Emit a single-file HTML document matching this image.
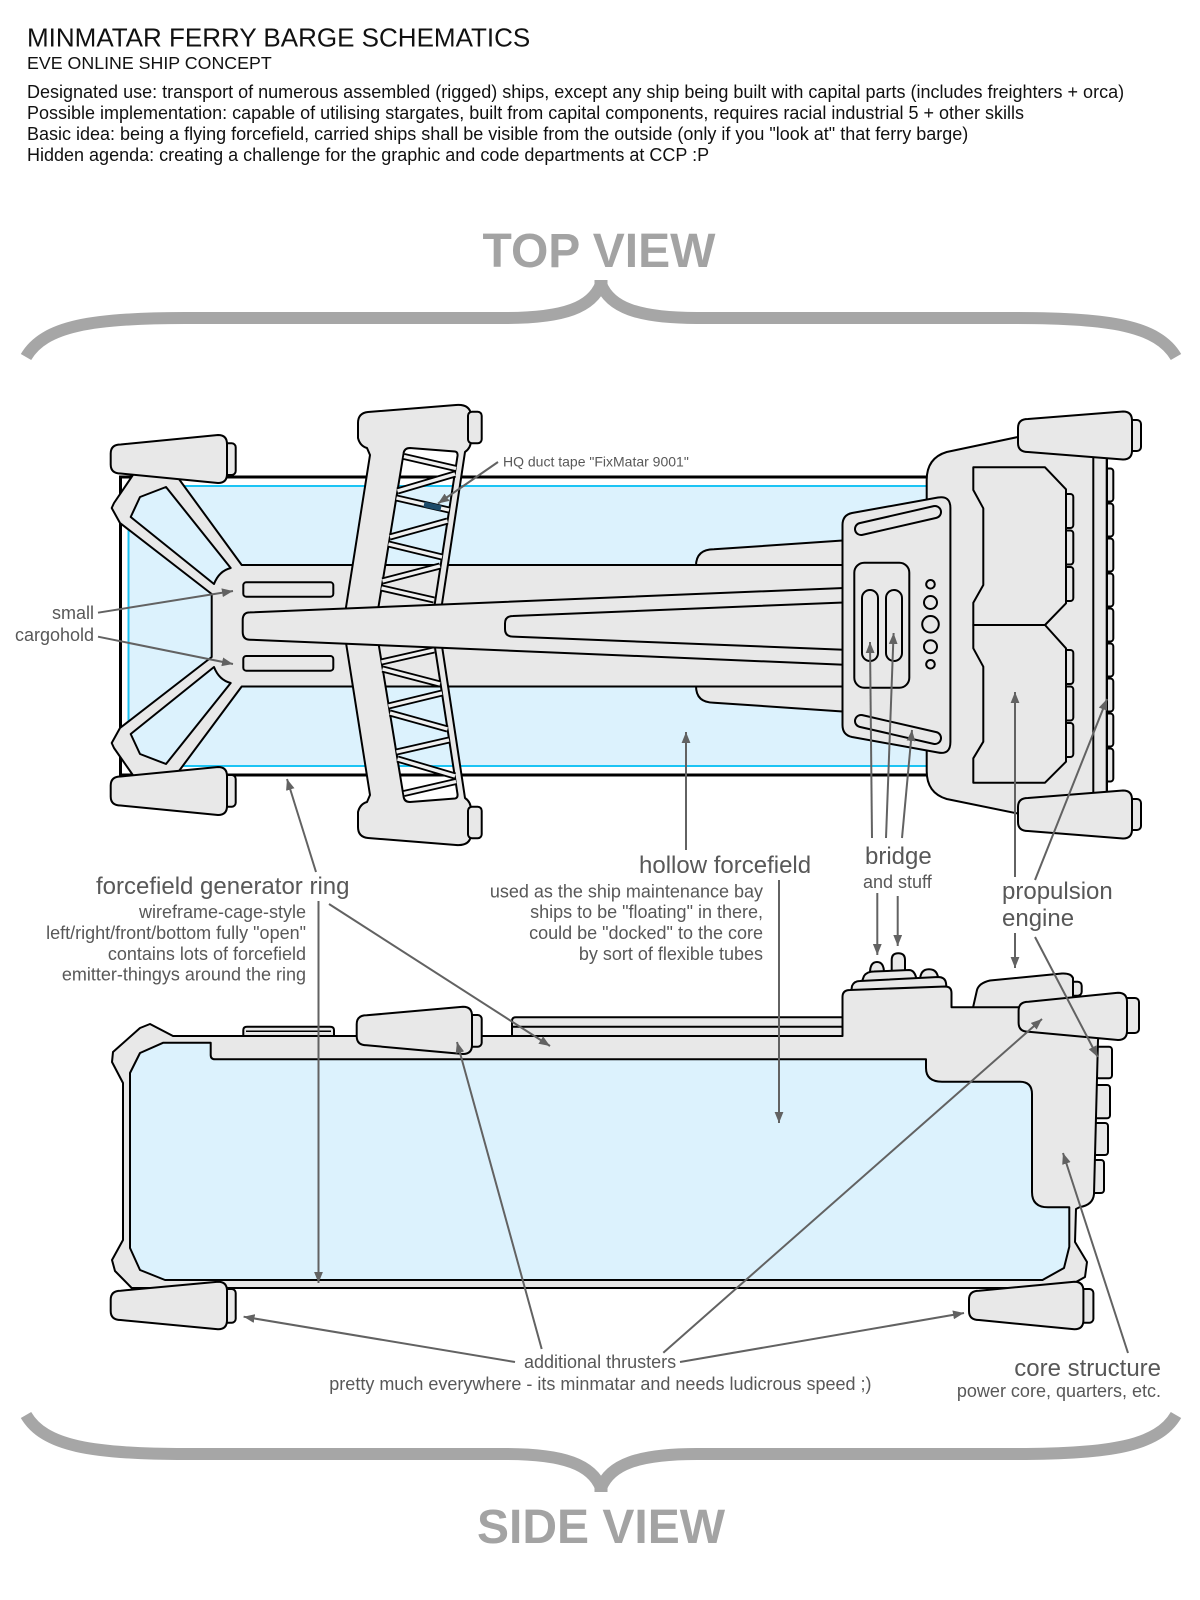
<!DOCTYPE html>
<html>
<head>
<meta charset="utf-8">
<style>
html,body{margin:0;padding:0;background:#fff;}
svg{display:block;}
text{font-family:"Liberation Sans",Arial,sans-serif;}
</style>
</head>
<body>
<svg width="1200" height="1600" viewBox="0 0 1200 1600" xmlns="http://www.w3.org/2000/svg">
<defs>
<marker id="ah" viewBox="0 0 10 8" refX="10" refY="4" markerWidth="11" markerHeight="9" markerUnits="userSpaceOnUse" orient="auto">
<path d="M0,0 L10,4 L0,8 Z" fill="#626262"/>
</marker>
</defs>
<rect width="1200" height="1600" fill="#fff"/>

<!-- HEADER -->
<text x="27" y="46.7" font-size="26" fill="#111">MINMATAR FERRY BARGE SCHEMATICS</text>
<text x="27" y="69" font-size="17.8" fill="#111">EVE ONLINE SHIP CONCEPT</text>
<text x="27" y="98" font-size="18" fill="#111">Designated use: transport of numerous assembled (rigged) ships, except any ship being built with capital parts (includes freighters + orca)</text>
<text x="27" y="119" font-size="18" fill="#111">Possible implementation: capable of utilising stargates, built from capital components, requires racial industrial 5 + other skills</text>
<text x="27" y="140" font-size="18" fill="#111">Basic idea: being a flying forcefield, carried ships shall be visible from the outside (only if you "look at" that ferry barge)</text>
<text x="27" y="161" font-size="18" fill="#111">Hidden agenda: creating a challenge for the graphic and code departments at CCP :P</text>

<!-- TOP VIEW title + brace -->
<text x="599" y="267" font-size="48" font-weight="bold" fill="#a3a3a3" text-anchor="middle">TOP VIEW</text>
<g stroke="#a6a6a6" stroke-width="12" fill="none">
<path d="M26,357 C44,326 92,318 185,318 L505,318 C565,318 592,307 601,284"/>
<path d="M1176,357 C1158,326 1110,318 1017,318 L697,318 C637,318 610,307 601,284"/>
</g>
<rect x="594.5" y="280" width="13" height="13" fill="#a6a6a6"/>

<!-- ============ TOP VIEW SHIP ============ -->
<rect x="120.5" y="477" width="820" height="298" fill="#fff" stroke="#000" stroke-width="3"/>
<rect x="128.5" y="486" width="812" height="280" fill="#dcf2fd" stroke="#1cc4f4" stroke-width="2"/>

<g stroke="#000" stroke-width="2" fill="#e8e8e8" stroke-linejoin="round">
<!-- bar fins -->
<rect x="1100" y="468.5" width="13.3" height="33" rx="3"/>
<rect x="1100" y="503.5" width="13.3" height="33" rx="3"/>
<rect x="1100" y="538.5" width="13.3" height="33" rx="3"/>
<rect x="1100" y="573.5" width="13.3" height="33" rx="3"/>
<rect x="1100" y="608.5" width="13.3" height="33" rx="3"/>
<rect x="1100" y="643.5" width="13.3" height="33" rx="3"/>
<rect x="1100" y="678.5" width="13.3" height="33" rx="3"/>
<rect x="1100" y="713.5" width="13.3" height="33" rx="3"/>
<rect x="1100" y="748.5" width="13.3" height="33" rx="3"/>
<!-- engine block -->
<path d="M926.7,480 Q926.7,458 946.7,452 L1025,435.5 L1107,435.5 L1107,815 L1025,815 L946.7,799 Q926.7,793 926.7,771 Z"/>
<rect x="1093.3" y="436" width="13.4" height="379"/>
<!-- block fins -->
<rect x="1060" y="494" width="13.3" height="34" rx="3"/>
<rect x="1060" y="530.5" width="13.3" height="34" rx="3"/>
<rect x="1060" y="567" width="13.3" height="34" rx="3"/>
<rect x="1060" y="650" width="13.3" height="34" rx="3"/>
<rect x="1060" y="686.5" width="13.3" height="34" rx="3"/>
<rect x="1060" y="723" width="13.3" height="34" rx="3"/>
<!-- inner blocks -->
<path d="M973.3,467.3 L1045,467.3 L1066,489.3 L1066,603.3 L1045,625 L973.3,625 L973.3,602.7 L983.3,585 L983.3,508.3 L973.3,490 Z"/>
<path d="M973.3,625 L1045,625 L1066,648.3 L1066,761.7 L1045,782.7 L973.3,782.7 L973.3,758.3 L983.3,741.7 L983.3,666.7 L973.3,648.3 Z"/>

<!-- wider section -->
<path d="M696,566 Q696,549.3 714,549.3 L850,540 L850,712 L714,702.7 Q696,702.7 696,686 Z"/>

<!-- spine + hub + arms -->
<path fill-rule="evenodd" d="M241.7,565 L850,565 L850,686.5 L241.7,686.5 L176,775 L137,781 L114,748 L111.7,743 L120,728 L211.7,657 L211.7,594 L120,523 L111.7,508 L114,503 L137,469 L176,475 Z
M140,497 L166,487 L230.7,568 Q219,571 214,584 L130.7,517 Z
M140,754 L166,764 L230.7,683 Q219,680 214,667 L130.7,734 Z"/>

<!-- forcefield generator ring -->
<path fill-rule="evenodd" d="M358,423 Q358,413 368,412 L456,405 Q470,404 471,415 L471,440 Q471,448 465,452 L438.8,625 L465,798 Q471,802 471,810 L471,835 Q470,846 456,845 L368,838 Q358,837 358,827 L358,812 Q360,804 367,802 L370,795 L343.2,625 L370,455 L367,448 Q360,446 358,438 Z
M410,448 L455,451.5 Q458,452 457.5,456 L431.5,625 L457.5,794 Q458,798 455,798.5 L410,802 Q404,802 403.5,796 L375.5,625 L403.5,454 Q404,448 410,448 Z"/>
<rect x="468" y="411.7" width="13.7" height="31.6" rx="4"/>
<rect x="468" y="806.7" width="13.7" height="31.6" rx="4"/>
</g>

<!-- ring struts -->
<g stroke="#000" stroke-width="7" fill="none">
<path d="M404,456.5 L456,468.5 M455,474 L397.5,491 M396.5,498 L449,510 M447.5,521 L390,537 M388.5,544 L442,557 M440,566 L382.5,581 M381.5,588 L434,600"/>
<path d="M404,793.5 L456,781.5 M455,776 L397.5,759 M396.5,752 L449,740 M447.5,729 L390,713 M388.5,706 L442,693 M440,684 L382.5,669 M381.5,662 L434,650"/>
</g>
<g stroke="#f0f0f0" stroke-width="3.4" fill="none">
<path d="M404,456.5 L456,468.5 M455,474 L397.5,491 M396.5,498 L449,510 M447.5,521 L390,537 M388.5,544 L442,557 M440,566 L382.5,581 M381.5,588 L434,600"/>
<path d="M404,793.5 L456,781.5 M455,776 L397.5,759 M396.5,752 L449,740 M447.5,729 L390,713 M388.5,706 L442,693 M440,684 L382.5,669 M381.5,662 L434,650"/>
</g>
<line x1="424" y1="504.3" x2="441" y2="508.2" stroke="#1d4b6a" stroke-width="5.5"/>

<g stroke="#000" stroke-width="2" fill="#e8e8e8" stroke-linejoin="round">
<!-- beam -->
<path d="M250,612.4 L850,587.7 L850,665 L250,639.7 Q242.7,639.7 242.7,632 L242.7,620 Q242.7,612.4 250,612.4 Z"/>
<path d="M513,616 L850,602.2 L850,650 L513,636.6 Q505,636.6 505,629 L505,623.5 Q505,616 513,616 Z"/>
<!-- cargo -->
<rect x="243.3" y="582.3" width="90" height="14.4" rx="3"/>
<rect x="243.3" y="656" width="90" height="14.7" rx="3"/>
<!-- bridge plate -->
<path d="M852,513 L938,497.5 Q950.4,495.5 950.4,508 L950.4,742 Q950.4,755 938,752.5 L852,737 Q842.5,735 842.5,725 L842.5,525 Q842.5,515 852,513 Z"/>
<rect x="854.3" y="562.7" width="55" height="125" rx="10"/>
<rect x="862" y="590" width="16" height="71" rx="8"/>
<rect x="886" y="590" width="16" height="71" rx="8"/>
<circle cx="930.5" cy="584.3" r="4.3"/>
<circle cx="930.5" cy="602.5" r="6.5"/>
<circle cx="930.5" cy="624.3" r="8.3"/>
<circle cx="930.5" cy="646.7" r="6.5"/>
<circle cx="930.5" cy="664.3" r="4.3"/>
</g>
<g fill="none" stroke-linecap="round">
<line x1="861" y1="529" x2="935" y2="512" stroke="#000" stroke-width="14"/>
<line x1="861" y1="529" x2="935" y2="512" stroke="#e8e8e8" stroke-width="10"/>
<line x1="861" y1="721" x2="935" y2="738" stroke="#000" stroke-width="14"/>
<line x1="861" y1="721" x2="935" y2="738" stroke="#e8e8e8" stroke-width="10"/>
</g>

<!-- top view thrusters -->
<g stroke="#000" stroke-width="2" fill="#e8e8e8" stroke-linejoin="round">
<rect x="220" y="443.3" width="15.7" height="31.7" rx="4"/>
<path d="M120.7,444.5 L218,435 Q227,435 227,444 L227,474 Q227,483 218,483 L120.7,473.5 Q110.7,473.5 110.7,464.5 L110.7,453.5 Q110.7,444.5 120.7,444.5 Z"/>
<rect x="220" y="775" width="15.7" height="31.7" rx="4"/>
<path d="M120.7,776.5 L218,767 Q227,767 227,776 L227,806 Q227,815 218,815 L120.7,805.5 Q110.7,805.5 110.7,796.5 L110.7,785.5 Q110.7,776.5 120.7,776.5 Z"/>
<rect x="1126" y="420" width="15" height="31" rx="4"/>
<path d="M1028,419 L1123,411.5 Q1132,411.5 1132,420.5 L1132,450.5 Q1132,459.5 1123,459.5 L1028,452 Q1018,452 1018,443 L1018,428 Q1018,419 1028,419 Z"/>
<rect x="1126" y="799" width="15" height="31" rx="4"/>
<path d="M1028,798 L1123,790.5 Q1132,790.5 1132,799.5 L1132,829.5 Q1132,838.5 1123,838.5 L1028,831 Q1018,831 1018,822 L1018,807 Q1018,798 1028,798 Z"/>
</g>

<!-- ============ SIDE VIEW SHIP ============ -->
<g stroke="#000" stroke-width="2" fill="#e8e8e8" stroke-linejoin="round">
<!-- rails -->
<path d="M512,1036 L512,1021 Q512,1017.3 516,1017.3 L850,1017.3 L850,1036 Z"/>
<line x1="512" y1="1026.7" x2="850" y2="1026.7"/>
<path d="M243.3,1036 L243.3,1030 Q243.3,1026.7 247,1026.7 L330,1026.7 Q334,1026.7 334,1030 L334,1036 Z"/>
<line x1="246" y1="1031.3" x2="331" y2="1031.3" stroke-width="1.5"/>
<!-- bridge domes -->
<path d="M870,973 Q870,962 877,962 Q884,962 884,973 Z"/>
<path d="M891.7,972 L891.7,960 Q891.7,953.3 898.3,953.3 Q905,953.3 905,960 L905,972 Z"/>
<path d="M920,981 Q920,969.3 929,969.3 Q938.3,969.3 938.3,981 Z"/>
<path d="M861,984 L864,976 Q867,971.5 874,971.5 L909,970 Q914,970 916,977 L917,984 Z"/>
<path d="M851,993 L852,986 Q854,981 860,981 L938,977 Q945,977 946,983 L947,993 Z"/>
<!-- engine housing -->
<rect x="1068" y="981.7" width="13.7" height="14" rx="4"/>
<path d="M972,1012 L977,990 Q979,983 990,980.5 L1062,973.5 Q1071,973 1073,978 L1073,1012 Z"/>
<!-- core fins -->
<rect x="1096" y="1046.7" width="16" height="31.6" rx="3"/>
<rect x="1094" y="1085" width="16" height="33.3" rx="3"/>
<rect x="1092" y="1123" width="16" height="32" rx="3"/>
<rect x="1089" y="1160" width="15" height="33" rx="3"/>
<!-- hull -->
<path d="M150,1024 L173,1036 L842.5,1036 L842.5,997 Q842.5,990 850,990 L945,986.5 Q951.5,986.5 951.5,993 L951.5,1007.3 L1060,1007.3 L1100,1030 L1098,1040 L1094,1194 Q1093,1205 1080,1207 L1076,1209 L1075,1242 L1087,1262 L1085,1277 L1076,1282 L1070,1288 L131.7,1288 L115,1271 L112,1260 L123,1240 L123,1083 L112,1062 L113,1052 L140,1028 Z"/>
<!-- blue interior -->
<path fill="#dcf2fd" d="M130,1073 L140,1053 L163.3,1042.7 L210.7,1042.7 L210.7,1055 Q210.7,1059.3 215,1059.3 L926,1059.3 L926,1068 Q926,1081.7 942,1081.7 L1020,1081.7 Q1032,1081.7 1032,1094 L1032,1192 Q1032,1207.3 1048,1207.3 L1069.3,1207.3 L1069.3,1246.7 L1064,1268 L1042.5,1280 L165,1280 L140,1270 L130,1248 Z"/>
<!-- side thrusters -->
<rect x="466" y="1015" width="15.7" height="31.7" rx="4"/>
<path d="M366.7,1015.3 L463,1006.7 Q472,1006.7 472,1015.7 L472,1045 Q472,1054 463,1054 L366.7,1045.3 Q356.7,1045.3 356.7,1036.3 L356.7,1024.3 Q356.7,1015.3 366.7,1015.3 Z"/>
<rect x="1122" y="998" width="17" height="35" rx="4"/>
<path d="M1028.6,1001.7 L1118,992.7 Q1127,992.7 1127,1001.7 L1127,1031 Q1127,1040 1118,1040 L1028.6,1031.7 Q1018.6,1031.7 1018.6,1022.7 L1018.6,1010.7 Q1018.6,1001.7 1028.6,1001.7 Z"/>
<rect x="221" y="1289" width="14.7" height="33.7" rx="4"/>
<path d="M120.7,1290.7 L218,1281.7 Q227,1281.7 227,1290.7 L227,1320.3 Q227,1329.3 218,1329.3 L120.7,1320 Q110.7,1320 110.7,1311 L110.7,1299.7 Q110.7,1290.7 120.7,1290.7 Z"/>
<rect x="1078" y="1289" width="15.4" height="33.7" rx="4"/>
<path d="M979,1290.7 L1074.4,1281.7 Q1083.4,1281.7 1083.4,1290.7 L1083.4,1320.3 Q1083.4,1329.3 1074.4,1329.3 L979,1320 Q969,1320 969,1311 L969,1299.7 Q969,1290.7 979,1290.7 Z"/>
</g>

<!-- ============ ARROWS ============ -->
<g stroke="#626262" stroke-width="2" fill="none" marker-end="url(#ah)">
<line x1="98" y1="612.7" x2="233" y2="591"/>
<line x1="98" y1="636.7" x2="233" y2="664"/>
<line x1="498" y1="462" x2="438" y2="503.5"/>
<line x1="316" y1="872" x2="287" y2="779"/>
<line x1="329" y1="904" x2="550" y2="1046"/>
<line x1="318.5" y1="901" x2="318.5" y2="1283"/>
<line x1="686" y1="850" x2="686" y2="732"/>
<line x1="779" y1="880" x2="779" y2="1123"/>
<line x1="872" y1="838" x2="870" y2="642"/>
<line x1="886" y1="838" x2="893.6" y2="633"/>
<line x1="902" y1="838" x2="912" y2="730"/>
<line x1="877.3" y1="893" x2="877.3" y2="955"/>
<line x1="897.7" y1="896" x2="897.7" y2="946"/>
<line x1="1015" y1="877" x2="1015" y2="692"/>
<line x1="1035" y1="880" x2="1107" y2="699"/>
<line x1="1015" y1="933" x2="1015" y2="968"/>
<line x1="1035" y1="937" x2="1097.7" y2="1057"/>
<line x1="515" y1="1362" x2="243.6" y2="1316.7"/>
<line x1="680" y1="1362" x2="964" y2="1313"/>
<line x1="541.7" y1="1349" x2="457" y2="1042"/>
<line x1="663.3" y1="1352.7" x2="1042" y2="1019"/>
<line x1="1128" y1="1353" x2="1063" y2="1153"/>
</g>

<!-- ============ LABELS ============ -->
<g fill="#585858">
<text x="94" y="619" font-size="18" text-anchor="end">small</text>
<text x="94" y="641" font-size="18" text-anchor="end">cargohold</text>
<text x="503" y="466.5" font-size="14">HQ duct tape "FixMatar 9001"</text>

<text x="96" y="894" font-size="24">forcefield generator ring</text>
<text x="306" y="918" font-size="18" text-anchor="end">wireframe-cage-style</text>
<text x="306" y="939" font-size="18" text-anchor="end">left/right/front/bottom fully "open"</text>
<text x="306" y="960" font-size="18" text-anchor="end">contains lots of forcefield</text>
<text x="306" y="980.5" font-size="18" text-anchor="end">emitter-thingys around the ring</text>

<text x="639" y="873" font-size="24">hollow forcefield</text>
<text x="763" y="897.5" font-size="18" text-anchor="end">used as the ship maintenance bay</text>
<text x="763" y="918" font-size="18" text-anchor="end">ships to be "floating" in there,</text>
<text x="763" y="939" font-size="18" text-anchor="end">could be "docked" to the core</text>
<text x="763" y="960" font-size="18" text-anchor="end">by sort of flexible tubes</text>

<text x="865" y="864" font-size="24">bridge</text>
<text x="863" y="888" font-size="18">and stuff</text>

<text x="1002" y="899" font-size="24">propulsion</text>
<text x="1002" y="926" font-size="24">engine</text>

<text x="524" y="1368" font-size="18">additional thrusters</text>
<text x="329.3" y="1390" font-size="18">pretty much everywhere - its minmatar and needs ludicrous speed ;)</text>

<text x="1161" y="1376" font-size="24" text-anchor="end">core structure</text>
<text x="1161" y="1397" font-size="18" text-anchor="end">power core, quarters, etc.</text>
</g>

<!-- SIDE VIEW brace + title -->
<g stroke="#a6a6a6" stroke-width="12" fill="none">
<path d="M26,1415 C44,1446 92,1454 185,1454 L505,1454 C565,1454 592,1465 601,1488"/>
<path d="M1176,1415 C1158,1446 1110,1454 1017,1454 L697,1454 C637,1454 610,1465 601,1488"/>
</g>
<rect x="594.5" y="1479" width="13" height="13" fill="#a6a6a6"/>
<text x="601" y="1543" font-size="48" font-weight="bold" fill="#a3a3a3" text-anchor="middle">SIDE VIEW</text>
</svg>
</body>
</html>
